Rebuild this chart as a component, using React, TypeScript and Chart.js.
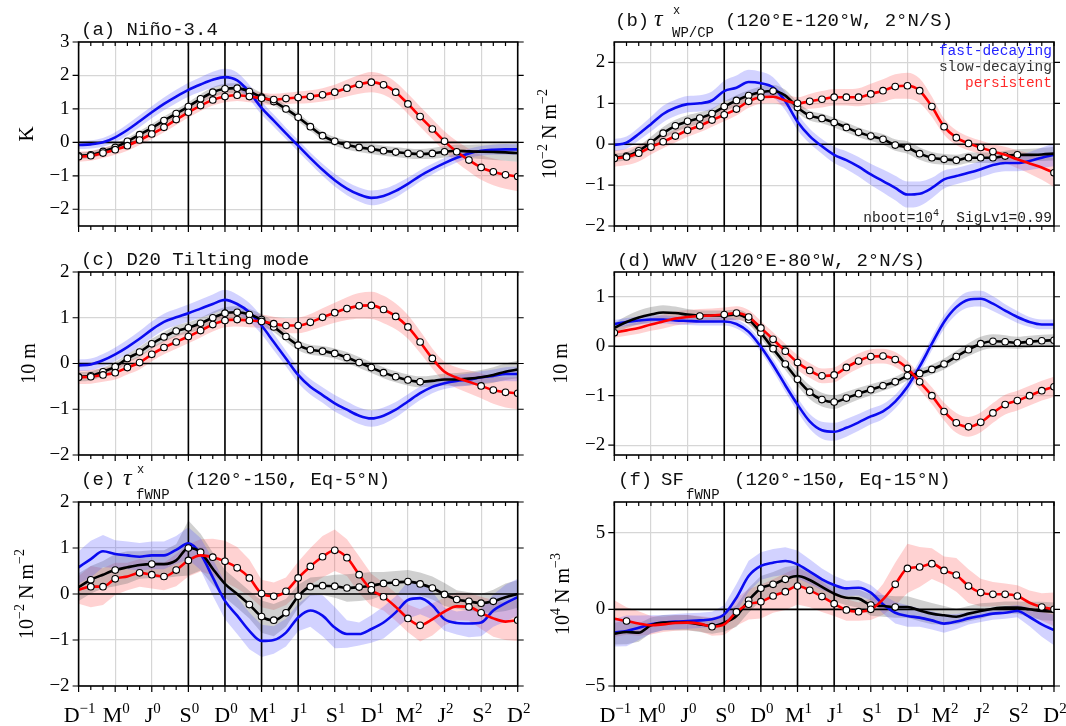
import { useEffect, useRef } from 'react';
import { Chart, registerables } from 'chart.js';

Chart.register(...registerables);

// ---------------- x axis: months from D(-1) to D(+2) ----------------
const xTickMonths = [0, 3, 6, 9, 12, 15, 18, 21, 24, 27, 30, 33, 36];
const xTickBase = ['D', 'M', 'J', 'S', 'D', 'M', 'J', 'S', 'D', 'M', 'J', 'S', 'D'];
const xTickSup = ['−1', '0', '0', '0', '0', '1', '1', '1', '1', '2', '2', '2', '2'];
const phaseLineMonths = [9, 12, 15, 18];

// ---------------- (a) Nino-3.4 ----------------
const aBlue = [-0.08,-0.06,0.0,0.15,0.37,0.63,0.9,1.15,1.37,1.57,1.73,1.87,1.95,1.85,1.5,1.03,0.65,0.27,-0.1,-0.47,-0.82,-1.13,-1.38,-1.56,-1.66,-1.6,-1.45,-1.24,-1.0,-0.8,-0.62,-0.46,-0.33,-0.25,-0.22,-0.21,-0.21];
const aBlack = [-0.4,-0.37,-0.27,-0.15,0.03,0.23,0.43,0.65,0.86,1.07,1.3,1.5,1.6,1.62,1.52,1.35,1.22,1.0,0.75,0.47,0.2,0.03,-0.08,-0.15,-0.2,-0.25,-0.29,-0.33,-0.35,-0.33,-0.28,-0.25,-0.27,-0.28,-0.29,-0.3,-0.32];
const aRed = [-0.43,-0.4,-0.32,-0.22,-0.1,0.07,0.25,0.45,0.68,0.9,1.1,1.27,1.37,1.41,1.37,1.32,1.28,1.31,1.34,1.37,1.42,1.5,1.62,1.73,1.8,1.72,1.5,1.15,0.77,0.4,0.03,-0.28,-0.53,-0.75,-0.88,-0.97,-1.02];
const aBlueW = [0.12,0.12,0.13,0.15,0.17,0.18,0.18,0.19,0.2,0.21,0.22,0.24,0.25,0.24,0.22,0.2,0.18,0.17,0.17,0.17,0.18,0.19,0.2,0.21,0.22,0.21,0.2,0.18,0.17,0.16,0.15,0.14,0.14,0.14,0.15,0.16,0.17];
const aBlackW = [0.1,0.1,0.1,0.1,0.11,0.11,0.12,0.12,0.12,0.13,0.14,0.15,0.15,0.15,0.14,0.13,0.12,0.12,0.12,0.12,0.12,0.13,0.13,0.14,0.15,0.15,0.15,0.15,0.15,0.16,0.17,0.18,0.2,0.22,0.24,0.25,0.26];
const aRedW = [0.15,0.15,0.15,0.15,0.15,0.15,0.15,0.15,0.16,0.16,0.16,0.17,0.17,0.17,0.17,0.17,0.17,0.17,0.18,0.19,0.2,0.22,0.25,0.28,0.3,0.3,0.3,0.3,0.3,0.3,0.3,0.32,0.34,0.37,0.4,0.42,0.44];
const aBlackSig = '1111111111' + '1111111111' + '1111111111' + '1000000';
const aRedSig = '1111111111' + '1111111111' + '1111111111' + '1111111';

// ---------------- (b) zonal wind stress WP/CP ----------------
const bBlue = [-0.02,0.04,0.25,0.49,0.74,0.89,0.98,1.0,1.07,1.3,1.38,1.52,1.49,1.39,1.05,0.55,0.2,-0.05,-0.26,-0.39,-0.55,-0.74,-0.9,-1.07,-1.23,-1.21,-1.07,-0.86,-0.78,-0.7,-0.61,-0.51,-0.46,-0.46,-0.41,-0.33,-0.26];
const bBlack = [-0.33,-0.29,-0.16,0.04,0.27,0.45,0.56,0.64,0.75,0.92,1.07,1.19,1.27,1.3,1.19,0.9,0.7,0.63,0.53,0.41,0.29,0.2,0.12,-0.02,-0.08,-0.23,-0.33,-0.37,-0.39,-0.33,-0.33,-0.33,-0.29,-0.26,-0.26,-0.25,-0.23];
const bRed = [-0.35,-0.31,-0.22,-0.07,0.06,0.2,0.34,0.45,0.59,0.72,0.86,1.05,1.15,1.16,1.07,1.0,1.05,1.1,1.15,1.15,1.15,1.23,1.31,1.41,1.43,1.31,0.92,0.43,0.16,0.02,-0.08,-0.18,-0.26,-0.37,-0.47,-0.57,-0.7];
const bBlueW = [0.15,0.15,0.16,0.18,0.2,0.2,0.2,0.2,0.22,0.25,0.3,0.3,0.28,0.25,0.22,0.2,0.18,0.18,0.2,0.22,0.24,0.26,0.28,0.3,0.32,0.3,0.25,0.22,0.2,0.2,0.2,0.2,0.2,0.2,0.22,0.25,0.28];
const bBlackW = [0.1,0.1,0.12,0.14,0.15,0.15,0.15,0.14,0.13,0.13,0.13,0.13,0.14,0.15,0.14,0.13,0.12,0.12,0.12,0.12,0.12,0.12,0.13,0.14,0.15,0.15,0.14,0.13,0.13,0.13,0.13,0.13,0.13,0.14,0.15,0.16,0.17];
const bRedW = [0.2,0.2,0.2,0.18,0.16,0.16,0.16,0.16,0.16,0.16,0.16,0.16,0.16,0.16,0.15,0.15,0.18,0.2,0.2,0.2,0.22,0.25,0.28,0.3,0.32,0.3,0.25,0.2,0.18,0.17,0.17,0.18,0.2,0.22,0.25,0.3,0.35];
const bBlackSig = '1111111111' + '1111011111' + '1111111111' + '1111000';
const bRedSig = '1111111111' + '1110011111' + '1111111111' + '1100001';

// ---------------- (c) D20 tilting mode ----------------
const cBlue = [-0.04,-0.02,0.07,0.2,0.36,0.54,0.74,0.91,1.01,1.1,1.2,1.3,1.39,1.3,1.12,0.83,0.47,0.11,-0.25,-0.51,-0.69,-0.87,-1.01,-1.14,-1.2,-1.14,-1.01,-0.83,-0.65,-0.51,-0.43,-0.38,-0.35,-0.3,-0.27,-0.23,-0.23];
const cBlack = [-0.29,-0.27,-0.18,-0.07,0.11,0.25,0.43,0.58,0.71,0.78,0.88,1.0,1.1,1.12,1.07,0.96,0.8,0.59,0.4,0.3,0.27,0.22,0.13,0.02,-0.09,-0.2,-0.29,-0.36,-0.4,-0.38,-0.35,-0.35,-0.33,-0.3,-0.25,-0.18,-0.13];
const cRed = [-0.3,-0.29,-0.25,-0.2,-0.09,0.02,0.2,0.35,0.47,0.59,0.72,0.85,0.94,0.96,0.94,0.92,0.87,0.83,0.83,0.9,1.01,1.11,1.2,1.26,1.27,1.18,1.03,0.8,0.47,0.11,-0.18,-0.31,-0.4,-0.49,-0.58,-0.63,-0.65];
const cBlueW = [0.13,0.13,0.14,0.15,0.16,0.17,0.18,0.18,0.18,0.19,0.2,0.21,0.22,0.21,0.2,0.19,0.18,0.17,0.17,0.17,0.17,0.18,0.18,0.18,0.18,0.18,0.17,0.16,0.15,0.14,0.13,0.13,0.13,0.13,0.14,0.15,0.16];
const cBlackW = [0.1,0.1,0.1,0.1,0.1,0.11,0.11,0.11,0.12,0.12,0.12,0.13,0.13,0.13,0.12,0.12,0.11,0.11,0.11,0.11,0.11,0.11,0.12,0.12,0.12,0.12,0.12,0.12,0.12,0.12,0.13,0.14,0.15,0.16,0.17,0.18,0.19];
const cRedW = [0.15,0.15,0.15,0.15,0.15,0.15,0.15,0.15,0.15,0.15,0.15,0.15,0.15,0.15,0.15,0.15,0.15,0.16,0.17,0.18,0.2,0.22,0.25,0.28,0.3,0.3,0.28,0.26,0.24,0.22,0.22,0.23,0.25,0.27,0.3,0.33,0.35];
const cBlackSig = '1111111111' + '1111111111' + '1111111110' + '0000000';
const cRedSig = '1111111111' + '1111111111' + '1111111111' + '0001111';

// ---------------- (d) WWV ----------------
const dBlue = [0.45,0.49,0.52,0.54,0.54,0.52,0.51,0.5,0.5,0.5,0.45,0.29,-0.01,-0.38,-0.79,-1.18,-1.52,-1.7,-1.73,-1.65,-1.54,-1.42,-1.32,-1.12,-0.82,-0.41,0.05,0.49,0.79,0.94,0.96,0.86,0.72,0.59,0.49,0.44,0.44];
const dBlack = [0.37,0.49,0.58,0.64,0.68,0.67,0.64,0.62,0.62,0.62,0.64,0.54,0.27,-0.05,-0.36,-0.67,-0.93,-1.08,-1.13,-1.05,-0.96,-0.88,-0.8,-0.72,-0.6,-0.55,-0.47,-0.36,-0.21,-0.07,0.05,0.1,0.09,0.07,0.09,0.11,0.12];
const dRed = [0.27,0.32,0.37,0.44,0.5,0.56,0.59,0.61,0.62,0.64,0.67,0.59,0.37,0.14,-0.1,-0.33,-0.49,-0.6,-0.58,-0.43,-0.3,-0.21,-0.2,-0.27,-0.45,-0.72,-1.0,-1.32,-1.55,-1.63,-1.54,-1.35,-1.18,-1.1,-1.0,-0.9,-0.82];
const dBlueW = [0.08,0.08,0.08,0.08,0.08,0.08,0.08,0.08,0.08,0.08,0.09,0.1,0.11,0.12,0.13,0.14,0.15,0.17,0.18,0.18,0.17,0.16,0.15,0.14,0.13,0.13,0.13,0.14,0.15,0.16,0.16,0.15,0.13,0.12,0.1,0.1,0.1];
const dBlackW = [0.1,0.12,0.14,0.15,0.15,0.13,0.11,0.1,0.1,0.1,0.1,0.1,0.11,0.11,0.12,0.13,0.14,0.14,0.14,0.13,0.12,0.11,0.1,0.1,0.1,0.1,0.1,0.11,0.12,0.13,0.14,0.14,0.13,0.12,0.12,0.12,0.12];
const dRedW = [0.1,0.11,0.12,0.13,0.14,0.14,0.14,0.14,0.14,0.14,0.14,0.14,0.14,0.14,0.15,0.15,0.15,0.15,0.15,0.15,0.15,0.15,0.15,0.15,0.15,0.16,0.17,0.18,0.2,0.2,0.2,0.2,0.2,0.2,0.2,0.2,0.2];
const dBlackSig = '0000000000' + '0111111111' + '1111111111' + '1111111';
const dRedSig = '1000000101' + '1111111111' + '1111111111' + '1111111';

// ---------------- (e) zonal wind stress fWNP ----------------
const eBlue = [0.58,0.76,0.93,0.87,0.84,0.81,0.84,0.84,0.96,1.1,0.87,0.36,-0.15,-0.47,-0.8,-1.02,-1.0,-0.84,-0.51,-0.36,-0.47,-0.73,-0.87,-0.87,-0.76,-0.62,-0.4,-0.13,-0.09,-0.25,-0.55,-0.63,-0.64,-0.62,-0.36,-0.2,-0.07];
const eBlack = [0.15,0.31,0.42,0.52,0.58,0.63,0.65,0.65,0.73,1.0,0.91,0.55,0.22,0.0,-0.23,-0.49,-0.57,-0.41,-0.05,0.16,0.18,0.17,0.13,0.15,0.18,0.23,0.25,0.27,0.22,0.13,-0.01,-0.12,-0.16,-0.2,-0.16,-0.07,0.0];
const eRed = [0.09,0.16,0.16,0.33,0.38,0.46,0.42,0.38,0.52,0.73,0.84,0.8,0.71,0.57,0.35,0.01,-0.05,0.06,0.35,0.6,0.81,0.95,0.79,0.42,0.09,-0.06,-0.28,-0.53,-0.68,-0.55,-0.38,-0.27,-0.28,-0.41,-0.53,-0.6,-0.57];
const eBlueW = [0.35,0.4,0.35,0.3,0.3,0.3,0.3,0.3,0.3,0.35,0.35,0.4,0.4,0.4,0.4,0.35,0.3,0.3,0.3,0.35,0.45,0.45,0.3,0.25,0.3,0.35,0.35,0.4,0.35,0.3,0.25,0.25,0.3,0.3,0.35,0.4,0.4];
const eBlackW = [0.3,0.3,0.3,0.35,0.35,0.3,0.3,0.3,0.35,0.6,0.4,0.35,0.3,0.3,0.3,0.35,0.35,0.3,0.25,0.2,0.2,0.25,0.3,0.3,0.3,0.25,0.25,0.25,0.25,0.25,0.25,0.2,0.2,0.2,0.25,0.3,0.3];
const eRedW = [0.3,0.45,0.4,0.35,0.3,0.3,0.3,0.3,0.35,0.35,0.35,0.4,0.45,0.45,0.4,0.3,0.3,0.3,0.35,0.4,0.45,0.45,0.4,0.4,0.35,0.3,0.3,0.3,0.35,0.35,0.3,0.3,0.3,0.35,0.4,0.4,0.45];
const eBlackSig = '0101001001' + '1000111111' + '1111111111' + '1111100';
const eRedSig = '0111011111' + '0111111111' + '1111110110' + '0011001';

// ---------------- (f) SF fWNP ----------------
const fBlue = [-1.52,-1.41,-1.2,-0.98,-0.87,-0.8,-0.76,-0.72,-0.65,-0.33,0.76,2.17,2.83,3.04,3.15,2.93,2.46,1.96,1.59,1.37,1.41,1.09,0.33,-0.22,-0.43,-0.54,-0.72,-0.93,-0.8,-0.59,-0.43,-0.28,-0.22,-0.11,-0.5,-0.98,-1.35];
const fBlack = [-1.59,-1.48,-1.52,-1.04,-0.87,-0.87,-0.87,-0.98,-1.09,-0.87,-0.43,0.59,1.37,1.63,1.96,2.17,1.91,1.46,1.02,0.76,0.7,0.28,0.22,0.15,0.15,-0.07,-0.28,-0.39,-0.48,-0.28,-0.11,0.04,0.11,0.11,0.0,-0.11,-0.15];
const fRed = [-0.61,-0.76,-0.93,-1.04,-0.98,-0.89,-0.87,-0.93,-1.13,-0.98,-0.17,0.33,0.5,0.87,1.15,1.52,1.24,0.83,0.37,-0.04,-0.15,0.0,0.65,1.63,2.67,2.76,2.98,2.54,2.24,1.52,1.09,0.98,0.98,0.87,0.43,0.15,0.0];
const fBlueW = [0.9,1.0,0.8,0.6,0.5,0.5,0.5,0.5,0.5,0.6,0.9,1.0,0.9,0.9,0.9,0.9,0.8,0.7,0.6,0.5,0.5,0.5,0.6,0.7,0.7,0.6,0.6,0.6,0.5,0.4,0.4,0.4,0.4,0.4,0.6,0.8,1.0];
const fBlackW = [0.7,0.8,0.6,0.5,0.5,0.5,0.5,0.5,0.5,0.6,0.7,0.8,0.8,0.8,0.8,0.7,0.6,0.6,0.5,0.5,0.6,0.7,0.7,0.7,0.7,0.7,0.7,0.6,0.5,0.5,0.5,0.4,0.4,0.4,0.5,0.6,0.6];
const fRedW = [1.2,0.9,0.8,0.6,0.5,0.5,0.5,0.5,0.6,0.7,0.9,1.0,1.1,1.1,1.2,1.2,1.1,1.0,0.8,0.7,0.6,0.7,1.0,1.4,1.6,1.3,1.0,0.9,1.1,1.1,0.9,0.8,0.7,0.7,0.8,0.9,1.1];
const fBlackSig = '0000000000' + '0111100000' + '0101000000' + '0000000';
const fRedSig = '0100000010' + '1111111111' + '1101111111' + '1111011';

const noSig = '';

// ---------------- styling ----------------
const MONO = '"Liberation Mono", "DejaVu Sans Mono", monospace';
const SERIF = '"Liberation Serif", "DejaVu Serif", serif';
const lineColors = { blue: '#0b0bf0', black: '#000000', red: '#ff0000' };
const bandColors = { blue: 'rgba(80,80,255,0.26)', black: 'rgba(110,110,110,0.32)', red: 'rgba(255,80,80,0.26)' };

type Series = { vals: number[]; w: number[]; sig: string };
type Seg = { t: string; x: number; y: number; font: string };
type Part = { t: string; size: number; rise?: number; family?: string; italic?: boolean };
type Spec = {
  id: string; L: number; T: number; W: number; H: number;
  plot: [number, number, number, number];
  yMin: number; yMax: number; yTicks: number[];
  blue: Series; black: Series; red: Series;
  jagged: boolean;
  title: Seg[];
  yLabel: Part[]; yLabelX: number;
  xLabels: boolean; legend: boolean;
};

const T19 = '19px ' + MONO;
const T14 = '14px ' + MONO;
const T12 = '12px ' + MONO;
const TAU = 'italic 24px ' + SERIF;

const labelNm2: Part[] = [{ t: '10', size: 20 }, { t: '−2', size: 14, rise: 9 }, { t: ' N m', size: 20 }, { t: '−2', size: 14, rise: 9 }];
const label10m: Part[] = [{ t: '10 m', size: 20 }];

const LX0 = 78.6, LX1 = 517.7, RX0 = 614.3, RX1 = 1054;

const specs: Spec[] = [
  {
    id: 'a', L: 0, T: 0, W: 530, H: 240, plot: [LX0, 42, LX1, 226], yMin: -2.5, yMax: 3, yTicks: [-2, -1, 0, 1, 2, 3],
    blue: { vals: aBlue, w: aBlueW, sig: noSig }, black: { vals: aBlack, w: aBlackW, sig: aBlackSig }, red: { vals: aRed, w: aRedW, sig: aRedSig },
    jagged: false,
    title: [{ t: '(a) Niño-3.4', x: 81, y: 35, font: T19 }],
    yLabel: [{ t: 'K', size: 21 }], yLabelX: 26, xLabels: false, legend: false,
  },
  {
    id: 'b', L: 530, T: 0, W: 536, H: 240, plot: [RX0, 42, RX1, 226], yMin: -2, yMax: 2.5, yTicks: [-2, -1, 0, 1, 2],
    blue: { vals: bBlue, w: bBlueW, sig: noSig }, black: { vals: bBlack, w: bBlackW, sig: bBlackSig }, red: { vals: bRed, w: bRedW, sig: bRedSig },
    jagged: false,
    title: [
      { t: '(b)', x: 615, y: 26, font: T19 },
      { t: 'τ', x: 654, y: 26, font: TAU },
      { t: 'x', x: 673, y: 14, font: T12 },
      { t: 'WP/CP', x: 672, y: 37, font: T14 },
      { t: '(120°E-120°W, 2°N/S)', x: 725, y: 26, font: T19 },
    ],
    yLabel: labelNm2, yLabelX: 549, xLabels: false, legend: true,
  },
  {
    id: 'c', L: 0, T: 240, W: 530, H: 222, plot: [LX0, 272, LX1, 455], yMin: -2, yMax: 2, yTicks: [-2, -1, 0, 1, 2],
    blue: { vals: cBlue, w: cBlueW, sig: noSig }, black: { vals: cBlack, w: cBlackW, sig: cBlackSig }, red: { vals: cRed, w: cRedW, sig: cRedSig },
    jagged: false,
    title: [{ t: '(c) D20 Tilting mode', x: 81, y: 265, font: T19 }],
    yLabel: label10m, yLabelX: 27.5, xLabels: false, legend: false,
  },
  {
    id: 'd', L: 530, T: 240, W: 536, H: 222, plot: [RX0, 272, RX1, 455], yMin: -2.2, yMax: 1.5, yTicks: [-2, -1, 0, 1],
    blue: { vals: dBlue, w: dBlueW, sig: noSig }, black: { vals: dBlack, w: dBlackW, sig: dBlackSig }, red: { vals: dRed, w: dRedW, sig: dRedSig },
    jagged: false,
    title: [{ t: '(d) WWV (120°E-80°W, 2°N/S)', x: 617, y: 266, font: T19 }],
    yLabel: label10m, yLabelX: 560, xLabels: false, legend: false,
  },
  {
    id: 'e', L: 0, T: 462, W: 530, H: 264, plot: [LX0, 502, LX1, 686], yMin: -2, yMax: 2, yTicks: [-2, -1, 0, 1, 2],
    blue: { vals: eBlue, w: eBlueW, sig: noSig }, black: { vals: eBlack, w: eBlackW, sig: eBlackSig }, red: { vals: eRed, w: eRedW, sig: eRedSig },
    jagged: true,
    title: [
      { t: '(e)', x: 81, y: 485, font: T19 },
      { t: 'τ', x: 123, y: 485, font: TAU },
      { t: 'x', x: 137, y: 473, font: T12 },
      { t: 'fWNP', x: 136, y: 499, font: T14 },
      { t: '(120°-150, Eq-5°N)', x: 185, y: 485, font: T19 },
    ],
    yLabel: labelNm2, yLabelX: 26, xLabels: true, legend: false,
  },
  {
    id: 'f', L: 530, T: 462, W: 536, H: 264, plot: [RX0, 502, RX1, 686], yMin: -5, yMax: 7, yTicks: [-5, 0, 5],
    blue: { vals: fBlue, w: fBlueW, sig: noSig }, black: { vals: fBlack, w: fBlackW, sig: fBlackSig }, red: { vals: fRed, w: fRedW, sig: fRedSig },
    jagged: true,
    title: [
      { t: '(f)', x: 618, y: 485, font: T19 },
      { t: 'SF', x: 661, y: 485, font: T19 },
      { t: 'fWNP', x: 686, y: 499, font: T14 },
      { t: '(120°-150, Eq-15°N)', x: 734, y: 485, font: T19 },
    ],
    yLabel: [{ t: '10', size: 20 }, { t: '4', size: 14, rise: 9 }, { t: ' N m', size: 20 }, { t: '−3', size: 14, rise: 9 }],
    yLabelX: 562, xLabels: true, legend: false,
  },
];

function partFont(p: Part) {
  return (p.italic ? 'italic ' : '') + p.size + 'px ' + (p.family || SERIF);
}

function drawRich(ctx: CanvasRenderingContext2D, parts: Part[], x: number, y: number, align: 'left' | 'center' | 'right') {
  ctx.textAlign = 'left';
  ctx.textBaseline = 'alphabetic';
  const ws = parts.map((p) => { ctx.font = partFont(p); return ctx.measureText(p.t).width; });
  const total = ws.reduce((s, v) => s + v, 0);
  let cx = align === 'center' ? x - total / 2 : align === 'right' ? x - total : x;
  parts.forEach((p, i) => {
    ctx.font = partFont(p);
    ctx.fillText(p.t, cx, y - (p.rise || 0));
    cx += ws[i];
  });
}

const YW = 50;
const NMONTHS = 37;

function fmtTick(v: number) {
  return v < 0 ? '−' + Math.abs(v) : String(v);
}

function buildConfig(spec: Spec): any {
  const keys: ('blue' | 'black' | 'red')[] = ['blue', 'black', 'red'];
  const datasets: any[] = [];
  const interp = spec.jagged ? { tension: 0 } : { cubicInterpolationMode: 'monotone' };
  keys.forEach((k) => {
    const s = spec[k];
    datasets.push({
      data: s.vals.map((v, i) => ({ x: i, y: v + s.w[i] })),
      borderColor: 'rgba(0,0,0,0)', borderWidth: 0, pointRadius: 0, fill: false, order: 10, ...interp,
    });
    datasets.push({
      data: s.vals.map((v, i) => ({ x: i, y: v - s.w[i] })),
      borderColor: 'rgba(0,0,0,0)', borderWidth: 0, pointRadius: 0, fill: '-1', backgroundColor: bandColors[k], order: 10, ...interp,
    });
  });
  keys.forEach((k, j) => {
    const s = spec[k];
    datasets.push({
      data: s.vals.map((v, i) => ({ x: i, y: v })),
      borderColor: lineColors[k], borderWidth: 2.6, fill: false, order: 3 - j,
      cubicInterpolationMode: 'monotone',
      pointRadius: s.vals.map((_, i) => (s.sig.charAt(i) === '1' ? 3.3 : 0)),
      pointBackgroundColor: '#ffffff', pointBorderColor: '#000000', pointBorderWidth: 1.1,
    });
  });

  const [pl, pt, pr, pb] = spec.plot;
  const padding = {
    left: pl - spec.L - YW,
    top: pt - spec.T,
    right: spec.L + spec.W - pr,
    bottom: spec.T + spec.H - pb,
  };

  const decor = {
    id: 'decor_' + spec.id,
    beforeDatasetsDraw(chart: any) {
      const { ctx, chartArea: a, scales } = chart;
      ctx.save();
      ctx.strokeStyle = '#000';
      ctx.lineWidth = 1.6;
      ctx.beginPath();
      phaseLineMonths.forEach((m) => {
        const x = scales.x.getPixelForValue(m);
        ctx.moveTo(x, a.top);
        ctx.lineTo(x, a.bottom);
      });
      const y0 = scales.y.getPixelForValue(0);
      ctx.moveTo(a.left, y0);
      ctx.lineTo(a.right, y0);
      ctx.stroke();
      ctx.restore();
    },
    afterDraw(chart: any) {
      const { ctx, chartArea: a, scales } = chart;
      const ox = spec.L, oy = spec.T;
      ctx.save();
      ctx.strokeStyle = '#000';
      ctx.lineWidth = 1.6;
      ctx.strokeRect(a.left, a.top, a.right - a.left, a.bottom - a.top);
      ctx.lineWidth = 1.2;
      ctx.beginPath();
      for (let m = 0; m < NMONTHS; m++) {
        const x = scales.x.getPixelForValue(m);
        ctx.moveTo(x, a.top);
        ctx.lineTo(x, a.top + 4);
        ctx.moveTo(x, a.bottom);
        ctx.lineTo(x, a.bottom + (m % 3 === 0 ? 6 : 4));
      }
      spec.yTicks.forEach((v) => {
        const y = scales.y.getPixelForValue(v);
        ctx.moveTo(a.left - 6, y);
        ctx.lineTo(a.left, y);
        ctx.moveTo(a.right, y);
        ctx.lineTo(a.right + 6, y);
      });
      ctx.stroke();
      ctx.fillStyle = '#111';
      ctx.textAlign = 'left';
      ctx.textBaseline = 'alphabetic';
      spec.title.forEach((s) => {
        ctx.font = s.font;
        ctx.fillText(s.t, s.x - ox, s.y - oy);
      });
      ctx.save();
      ctx.translate(spec.yLabelX - ox, (a.top + a.bottom) / 2);
      ctx.rotate(-Math.PI / 2);
      ctx.fillStyle = '#000';
      drawRich(ctx, spec.yLabel, 0, 7, 'center');
      ctx.restore();
      if (spec.xLabels) {
        ctx.fillStyle = '#000';
        xTickMonths.forEach((m, i) => {
          const x = scales.x.getPixelForValue(m);
          drawRich(ctx, [{ t: xTickBase[i], size: 22 }, { t: xTickSup[i], size: 15, rise: 9 }], x + 1, 722 - oy, 'center');
        });
      }
      if (spec.legend) {
        ctx.textAlign = 'right';
        ctx.font = '14.5px ' + MONO;
        ctx.fillStyle = '#2424ff';
        ctx.fillText('fast-decaying', 1052 - ox, 55 - oy);
        ctx.fillStyle = '#333333';
        ctx.fillText('slow-decaying', 1052 - ox, 71 - oy);
        ctx.fillStyle = '#ff2a2a';
        ctx.fillText('persistent', 1052 - ox, 87 - oy);
        ctx.fillStyle = '#222';
        drawRich(ctx, [
          { t: 'nboot=10', size: 14.5, family: MONO },
          { t: '4', size: 10, rise: 6, family: MONO },
          { t: ', SigLv1=0.99', size: 14.5, family: MONO },
        ], 1052 - ox, 222 - oy, 'right');
      }
      ctx.restore();
    },
  };

  return {
    type: 'line',
    data: { datasets },
    plugins: [decor],
    options: {
      responsive: false,
      animation: false,
      events: [],
      layout: { padding },
      plugins: {
        legend: { display: false },
        tooltip: { enabled: false },
        title: { display: false },
        filler: { drawTime: 'beforeDatasetsDraw' },
      },
      scales: {
        x: {
          type: 'linear', min: 0, max: 36,
          afterBuildTicks: (s: any) => { s.ticks = xTickMonths.map((v) => ({ value: v })); },
          afterFit: (s: any) => { s.height = 0; s.paddingLeft = 0; s.paddingRight = 0; },
          ticks: { display: false },
          grid: { color: '#d6d6d6', lineWidth: 1.2, drawTicks: false },
          border: { display: false },
        },
        y: {
          type: 'linear', min: spec.yMin, max: spec.yMax,
          afterBuildTicks: (s: any) => { s.ticks = spec.yTicks.map((v) => ({ value: v })); },
          afterFit: (s: any) => { s.width = YW; s.paddingTop = 0; s.paddingBottom = 0; },
          ticks: {
            font: { family: SERIF, size: 19 }, color: '#000', padding: 9,
            callback: (v: any) => fmtTick(Number(v)),
          },
          grid: { color: '#d6d6d6', lineWidth: 1.2, drawTicks: false },
          border: { display: false },
        },
      },
    },
  };
}

function Panel({ spec }: { spec: Spec }) {
  const ref = useRef<HTMLCanvasElement>(null);
  useEffect(() => {
    const chart = new Chart(ref.current as HTMLCanvasElement, buildConfig(spec));
    return () => chart.destroy();
  }, [spec]);
  return (
    <canvas
      ref={ref}
      width={spec.W}
      height={spec.H}
      style={{ position: 'absolute', left: spec.L, top: spec.T, width: spec.W, height: spec.H }}
    />
  );
}

export default function App() {
  return (
    <div style={{ position: 'absolute', left: 0, top: 0, width: 1066, height: 726, background: '#fff', overflow: 'hidden' }}>
      {specs.map((s) => (
        <Panel key={s.id} spec={s} />
      ))}
    </div>
  );
}
